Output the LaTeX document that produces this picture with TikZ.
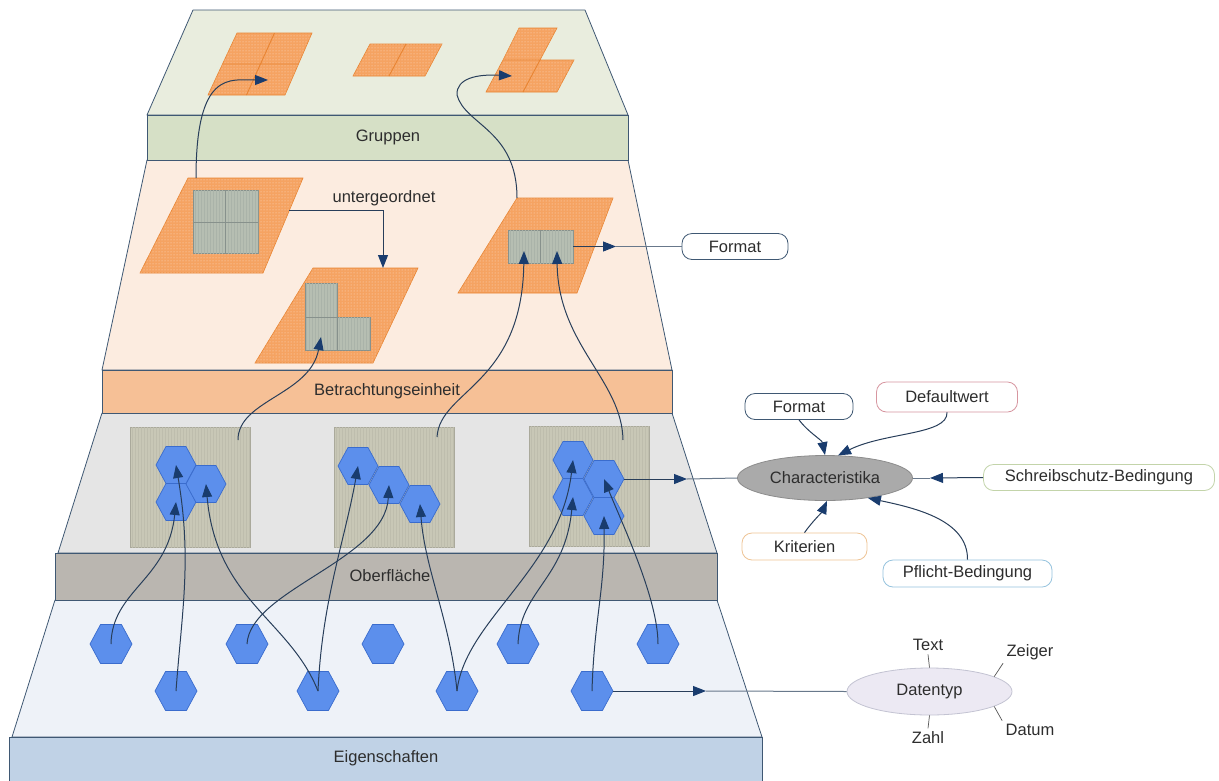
\documentclass[tikz,border=0pt]{standalone}
\usepackage{fontspec}
\setmainfont{Liberation Sans}
\usetikzlibrary{arrows.meta,patterns,shapes.geometric}

\definecolor{edge}{RGB}{63,88,115}
\definecolor{conncol}{RGB}{40,62,90}
\definecolor{tipcol}{RGB}{25,60,110}
\definecolor{grpface}{RGB}{233,237,222}
\definecolor{grpband}{RGB}{214,224,198}
\definecolor{betface}{RGB}{252,236,224}
\definecolor{betband}{RGB}{246,192,150}
\definecolor{oberface}{RGB}{229,229,229}
\definecolor{oberband}{RGB}{186,182,176}
\definecolor{eigface}{RGB}{238,242,248}
\definecolor{eigband}{RGB}{192,210,230}
\definecolor{orng}{RGB}{245,163,98}
\definecolor{orngline}{RGB}{232,132,50}
\definecolor{cellgrey}{RGB}{182,190,178}
\definecolor{cellline}{RGB}{135,145,140}
\definecolor{panelcol}{RGB}{200,199,182}
\definecolor{hexfill}{RGB}{92,143,236}
\definecolor{hexline}{RGB}{58,108,205}
\definecolor{txt}{RGB}{45,45,45}
\definecolor{chfill}{RGB}{170,170,170}
\definecolor{chline}{RGB}{140,140,140}
\definecolor{dtfill}{RGB}{236,233,243}
\definecolor{dtline}{RGB}{195,195,210}
\definecolor{defline}{RGB}{215,150,160}
\definecolor{sbline}{RGB}{195,212,170}
\definecolor{krline}{RGB}{238,196,150}
\definecolor{pfline}{RGB}{150,195,222}

% flat-topped hexagon: name, x, y, half width
\newcommand\hexcellat[4]{%
  \coordinate (#1) at (#2,#3);
  \path[hexcell] (#1) ++({-#4},0) -- ++({0.5*#4},{-0.925*#4}) -- ++(#4,0)
    -- ++({0.5*#4},{0.925*#4}) -- ++({-0.5*#4},{0.925*#4}) -- ++({-#4},0) -- cycle;
}

\begin{document}
\begin{tikzpicture}[x=1pt,y=-1pt,
  face/.style={draw=edge, line width=0.8pt, line join=round},
  band/.style={draw=edge, line width=0.8pt},
  orangepar/.style={fill=orng, draw=orngline, line width=0.6pt,
    postaction={pattern=dots, pattern color=white!65!orng}},
  divider/.style={draw=orngline, line width=0.9pt},
  cell/.style={fill=cellgrey, draw=cellline, line width=0.6pt,
    postaction={pattern=vertical lines, pattern color=cellline!25!cellgrey}},
  celldiv/.style={draw=cellline, line width=0.6pt},
  panel/.style={rectangle, fill=panelcol, draw=panelcol!85!black, line width=0.4pt,
    postaction={pattern=vertical lines, pattern color=panelcol!95!black},
    minimum width=120pt, minimum height=120pt, inner sep=0pt},
  hexcell/.style={fill=hexfill, draw=hexline, line width=0.7pt, line join=round},
  conn/.style={draw=conncol, line width=1pt, -{Triangle[length=13pt,width=10pt,color=tipcol]}},
  plain/.style={draw=conncol!70!white, line width=1pt},
  lbl/.style={text=txt, font=\fontsize{16.5}{19}\selectfont},
  tag/.style={lbl, rectangle, rounded corners=10pt, fill=white, line width=0.8pt,
    minimum height=26pt, inner sep=0pt},
  tick/.style={draw=txt!80!white, line width=0.7pt}
]
\useasboundingbox (0,0) rectangle (1219,780);
\fill[white] (0,0) rectangle (1219,780);

% ---------- layer faces and bands ----------
\path[face, fill=eigface] (55,600) -- (717,600) -- (762,737) -- (12,737) -- cycle;
\path[band, top color=eigband, middle color=eigband!45!white, bottom color=eigband]
  (9,737) rectangle (762,781);
\path[face, fill=oberface] (102,413) -- (672,413) -- (717,553) -- (58,553) -- cycle;
\path[band, top color=oberband, middle color=oberband!55!white, bottom color=oberband]
  (55,553) rectangle (717,600);
\path[face, fill=betface] (147,160) -- (628,160) -- (672,370) -- (102,370) -- cycle;
\path[band, top color=betband, middle color=betband!55!white, bottom color=betband]
  (102,370) rectangle (672,413);
\path[face, fill=grpface] (193,10) -- (585,10) -- (628,115) -- (147,115) -- cycle;
\path[band, top color=grpband, middle color=grpband!55!white, bottom color=grpband]
  (147,115) rectangle (628,160);

\node[lbl] (lgru) at (388,137) {Gruppen};
\node[lbl] (lbet) at (387,391) {Betrachtungseinheit};
\node[lbl] (lobe) at (390,576) {Oberfläche};
\node[lbl] (leig) at (386,758) {Eigenschaften};

% ---------- groups (top layer) ----------
\path[orangepar] (237,33) -- (312,33) -- (285,95) -- (208,95) -- cycle;
\path[divider] (222.5,64) -- (298.5,64) (274.5,33) -- (246.5,95);
\path[orangepar] (370,44) -- (442,44) -- (425,76) -- (353,76) -- cycle;
\path[divider] (406,44) -- (389,76);
\path[orangepar] (519,28) -- (557,28) -- (540,60) -- (574,60) -- (557,92) -- (486,92) -- (503,60) -- cycle;
\path[divider] (503,60) -- (540,60) -- (523,92);
\coordinate (t1) at (268,80);
\coordinate (t3) at (512,76);

% ---------- units (middle layer) ----------
\path[orangepar] (188,178) -- (303,178) -- (263,273) -- (140,273) -- cycle;
\node[cell, minimum width=65pt, minimum height=63pt, inner sep=0pt] (g1) at (225.5,222) {};
\path[celldiv] (g1.north) -- (g1.south) (g1.west) -- (g1.east);

\path[orangepar] (313,268) -- (418,268) -- (373,363) -- (255,363) -- cycle;
\path[cell] (305,283) -- (337,283) -- (337,317) -- (370,317) -- (370,350) -- (305,350) -- cycle;
\path[celldiv] (305,317) -- (337,317) -- (337,350);
\coordinate (lcell) at (321,337);

\path[orangepar] (517,198) -- (613,198) -- (577,293) -- (458,293) -- cycle;
\node[cell, minimum width=65pt, minimum height=33pt, inner sep=0pt] (g3) at (540.5,246.5) {};
\path[celldiv] (g3.north) -- (g3.south);
\coordinate (g3l) at (524,251);
\coordinate (g3r) at (557,251);

\coordinate (s1) at (196,178);
\coordinate (s3) at (517,198);
\coordinate (u0) at (289,210);
\coordinate (u1) at (383,268);
\node[lbl] (unt) at (384,198) {untergeordnet};

% ---------- surface panels and hexagon clusters ----------
\node[panel] (pan1) at (190,487) {};
\node[panel] (pan2) at (394,487) {};
\node[panel] (pan3) at (589,486) {};

\hexcellat{c1a}{176}{465}{20}
\hexcellat{c1b}{176}{502}{20}
\hexcellat{c1c}{206}{484}{20}
\hexcellat{c2a}{358}{466}{20}
\hexcellat{c2b}{389}{485}{20}
\hexcellat{c2c}{420}{504}{20}
\hexcellat{c3a}{573}{460}{20}
\hexcellat{c3c}{573}{497}{20}
\hexcellat{c3b}{604}{479}{20}
\hexcellat{c3d}{604}{516}{20}

\coordinate (p1o) at (238,440);
\coordinate (p2o) at (437,437);
\coordinate (p3o) at (623,440);

% ---------- properties (bottom layer) ----------
\hexcellat{r1a}{111}{644}{21}
\hexcellat{r1b}{247}{644}{21}
\hexcellat{r1c}{383}{644}{21}
\hexcellat{r1d}{518}{644}{21}
\hexcellat{r1e}{658}{644}{21}
\hexcellat{r2a}{176}{691}{21}
\hexcellat{r2b}{318}{691}{21}
\hexcellat{r2c}{457}{691}{21}
\hexcellat{r2d}{592}{691}{21}

% ---------- connectors between layers ----------
\draw[conn] (r1a) .. controls (112,590) and (168,580) .. (c1b);
\draw[conn] (r2a) .. controls (182,610) and (192,560) .. (c1a);
\draw[conn] (r2b) .. controls (290,620) and (216,600) .. (c1c);
\draw[conn] (r1b) .. controls (250,590) and (385,560) .. (c2b);
\draw[conn] (r2b) .. controls (322,600) and (345,540) .. (c2a);
\draw[conn] (r2c) .. controls (450,620) and (425,570) .. (c2c);
\draw[conn] (r2c) .. controls (465,620) and (560,570) .. (c3a);
\draw[conn] (r1d) .. controls (520,590) and (565,580) .. (c3c);
\draw[conn] (r2d) .. controls (594,620) and (605,590) .. (c3d);
\draw[conn] (r1e) .. controls (658,600) and (625,530) .. (c3b);

\draw[conn] (p1o) .. controls (238,400) and (310,395) .. (lcell);
\draw[conn] (p2o) .. controls (440,390) and (522,385) .. (g3l);
\draw[conn] (p3o) .. controls (622,380) and (558,345) .. (g3r);

\draw[conn] (u0) -| (u1);

\draw[conn] (s1) .. controls (196,70) and (230,80) .. (t1);
\draw[conn] (s3) .. controls (517,130) and (465,125) .. (457,95)
  .. controls (456,78) and (478,74) .. (t3);

% ---------- format of a unit ----------
\node[tag, draw=edge, minimum width=106pt] (fmtA) at (735,246.5) {Format};
\coordinate (fmtAtip) at (616,246.5);
\draw[conn] (g3.east) -- (fmtAtip);
\draw[plain] (fmtAtip) -- (fmtA.west);

% ---------- characteristics ----------
\node[lbl, ellipse, fill=chfill, draw=chline, line width=0.8pt, minimum width=175pt,
  minimum height=45pt, inner sep=0pt] (ch) at (825,478) {Characteristika};
\coordinate (c3bE) at (624,479);
\coordinate (chtip) at (687,479);
\draw[conn] (c3bE) -- (chtip);
\draw[plain] (chtip) -- (ch.west);

\node[tag, draw=edge, minimum width=108pt] (fmtB) at (799,406.5) {Format};
\node[tag, draw=defline, minimum width=141pt, minimum height=30pt] (dw) at (947,397) {Defaultwert};
\node[tag, draw=sbline, minimum width=231pt] (sb) at (1099,477.5) {Schreibschutz-Bedingung};
\node[tag, draw=krline, minimum width=125pt, minimum height=27pt] (kr) at (804.5,546.5) {Kriterien};
\node[tag, draw=pfline, minimum width=169pt, minimum height=27pt] (pf) at (967.5,573.5) {Pflicht-Bedingung};

\draw[conn] (fmtB.south) .. controls (808,432) and (822,440) .. (ch.north);
\draw[conn] (dw.south) .. controls (948,435) and (885,432) .. (ch.60);
\coordinate (sbtip) at (930,478);
\draw[conn] (sb.west) -- (sbtip);
\draw[plain] (sbtip) -- (ch.east);
\draw[conn] (kr.north) .. controls (812,522) and (822,512) .. (ch.-85);
\draw[conn] (pf.north) .. controls (968,520) and (915,508) .. (ch.-25);

% ---------- data type ----------
\node[lbl, ellipse, fill=dtfill, draw=dtline, line width=0.8pt, minimum width=165pt,
  minimum height=47pt, inner sep=0pt] (dt) at (929.5,691.5) {Datentyp};
\coordinate (r2dE) at (613,691);
\coordinate (dttip) at (706,691);
\draw[conn] (r2dE) -- (dttip);
\draw[plain] (dttip) -- (dt.west);

\node[lbl] (ttext) at (928,645) {Text};
\node[lbl] (tzahl) at (928,738) {Zahl};
\node[lbl] (tzeig) at (1030,652) {Zeiger};
\node[lbl] (tdat) at (1030,730) {Datum};
\draw[tick] (ttext.south) -- (dt.north);
\draw[tick] (tzahl.north) -- (dt.south);
\draw[tick] (dt.13) -- (tzeig.south west);
\draw[tick] (dt.-13) -- (tdat.north west);
\end{tikzpicture}
\end{document}
